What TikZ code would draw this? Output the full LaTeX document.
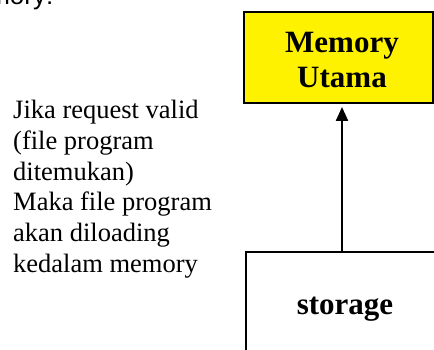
\documentclass[tikz,border=0pt]{standalone}
\usepackage{fontspec}
\setmainfont{Liberation Serif}
\newfontfamily\arialfont{Liberation Sans}
\usetikzlibrary{arrows.meta}
\begin{document}
\begin{tikzpicture}[x=1pt,y=1pt,
  boxstyle/.style={draw=black, line width=2pt, rectangle, inner sep=0pt,
    font=\fontsize{31}{35}\selectfont\bfseries, align=center},
  arr/.style={line width=2.3pt, -{Triangle[width=12pt,length=14pt]}, shorten >=3pt},
  bodytext/.style={font=\fontsize{26.5}{30.8}\selectfont, align=left, inner sep=0pt}]
\useasboundingbox (0,0) rectangle (434,350);
% cut-off heading fragment at the top
\node[anchor=base east, inner sep=0pt, font=\arialfont\fontsize{26}{30}\selectfont] (head) at (53.5,345) {memory:};
% main memory box
\node[boxstyle, fill=yellow, minimum width=189pt, minimum height=91pt] (mem) at (338.5,292.5)
  {\hspace*{7pt}\rule{0pt}{26pt}Memory\\\hspace*{7pt}Utama};
% storage box (cut by the picture edge)
\node[boxstyle, minimum width=198pt, minimum height=114pt] (stor) at (345,41) {storage};
% explanatory text
\node[bodytext, anchor=north west] (txt) at (13,250) {Jika request valid\\(file program\\ditemukan)\\Maka file program\\akan diloading\\kedalam memory};
\coordinate (ax) at (342,0);
\draw[arr] (stor.north -| ax) -- (mem.south -| ax);
\end{tikzpicture}
\end{document}
